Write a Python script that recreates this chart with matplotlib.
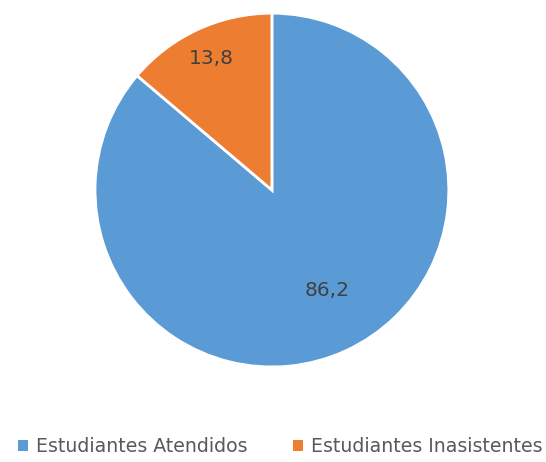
import numpy as np
import matplotlib.pyplot as plt
from matplotlib.patches import Patch

categories = ['Estudiantes Atendidos', 'Estudiantes Inasistentes']
values = [86.2, 13.8]
labels = ['86,2', '13,8']
colors = ['#5B9BD5', '#ED7D31']

fig = plt.figure(figsize=(5.46, 4.62), dpi=100)
ax = fig.add_axes([0.174, 0.2056, 0.648, 0.766])

wedges, _ = ax.pie(values, colors=colors, startangle=90, counterclock=False,
                   wedgeprops=dict(edgecolor='white', linewidth=2))
ax.set_xlim(-1, 1)
ax.set_ylim(-1, 1)
ax.set_aspect('equal')

# etiquetas de valores dentro de cada sector
label_r = [0.645, 0.82]
label_da = [4, 0]
for w, lab, r, da in zip(wedges, labels, label_r, label_da):
    ang = np.deg2rad((w.theta1 + w.theta2) / 2 + da)
    ax.text(r * np.cos(ang), r * np.sin(ang), lab, ha='center', va='center',
            fontsize=14.5, color='#404040')

handles = [Patch(facecolor=c, edgecolor='none') for c in colors]
fig.legend(handles, categories, loc='center', bbox_to_anchor=(0.513, 0.033),
           ncol=2, frameon=False, fontsize=13.6, handlelength=0.55, handleheight=0.55,
           columnspacing=2.4, handletextpad=0.4, labelcolor='#595959')

fig.savefig('out.png', dpi=100)
